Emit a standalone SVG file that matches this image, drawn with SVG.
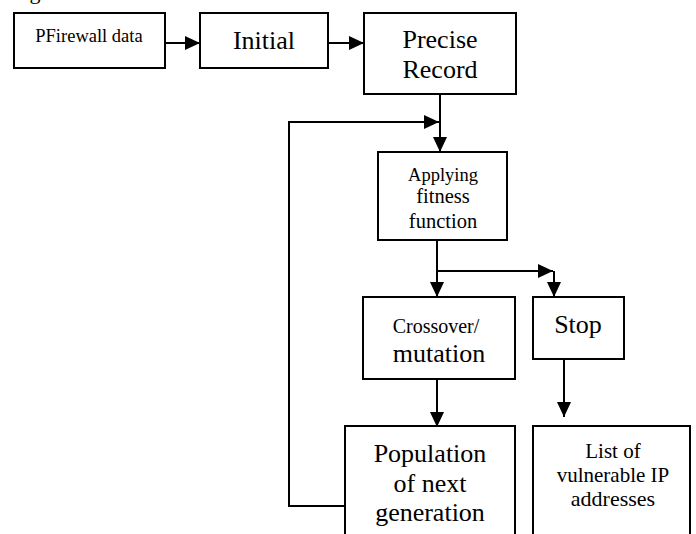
<svg xmlns="http://www.w3.org/2000/svg" width="696" height="534" viewBox="0 0 696 534">
<style>
  .box { fill: #fff; stroke: #000; stroke-width: 2; }
  .t { font-family: "Times New Roman", "Liberation Serif", "DejaVu Serif", serif; fill: #000; text-anchor: middle; }
  .c { fill: none; stroke: #000; stroke-width: 2; }
</style>
<defs>
  <marker id="ah" viewBox="0 0 15 14" refX="15" refY="7" markerWidth="15" markerHeight="14" markerUnits="userSpaceOnUse" orient="auto">
    <path d="M0,0 L15,7 L0,14 Z" fill="#000"/>
  </marker>
</defs>
<rect width="696" height="534" fill="#fff"/>
<text class="t" x="35" y="-1" font-size="22">g</text>

<g id="connectors">
  <line class="c" x1="165" y1="43" x2="200" y2="43" marker-end="url(#ah)"/>
  <line class="c" x1="328" y1="43" x2="364" y2="43" marker-end="url(#ah)"/>
  <line class="c" x1="440" y1="94" x2="440" y2="152" marker-end="url(#ah)"/>
  <path class="c" d="M345,506 L289,506 L289,122 L439,122" marker-end="url(#ah)"/>
  <line class="c" x1="437" y1="240" x2="437" y2="297" marker-end="url(#ah)"/>
  <line class="c" x1="437" y1="271" x2="553" y2="271" marker-end="url(#ah)"/>
  <line class="c" x1="554" y1="271" x2="554" y2="297" marker-end="url(#ah)"/>
  <line class="c" x1="437" y1="379" x2="437" y2="427" marker-end="url(#ah)"/>
  <line class="c" x1="564" y1="359" x2="564" y2="417" marker-end="url(#ah)"/>
</g>

<g id="pfirewall">
  <rect class="box" x="14" y="13" width="151" height="55"/>
  <text class="t" x="89" y="42" font-size="18.5">PFirewall data</text>
</g>
<g id="initial">
  <rect class="box" x="200" y="13" width="128" height="55"/>
  <text class="t" x="264" y="49" font-size="26">Initial</text>
</g>
<g id="precise">
  <rect class="box" x="364" y="13" width="152" height="81"/>
  <text class="t" x="440" y="48" font-size="26">Precise</text>
  <text class="t" x="440" y="78" font-size="26">Record</text>
</g>
<g id="applying">
  <rect class="box" x="378" y="152" width="129" height="88"/>
  <text class="t" x="443" y="181" font-size="18.5">Applying</text>
  <text class="t" x="443" y="203" font-size="20.5">fitness</text>
  <text class="t" x="443" y="228" font-size="20.5">function</text>
</g>
<g id="crossover">
  <rect class="box" x="363" y="297" width="152" height="82"/>
  <text class="t" x="436" y="333" font-size="20">Crossover/</text>
  <text class="t" x="439" y="362" font-size="26">mutation</text>
</g>
<g id="stop">
  <rect class="box" x="533" y="297" width="91" height="62"/>
  <text class="t" x="578" y="333" font-size="26">Stop</text>
</g>
<g id="population">
  <rect class="box" x="345" y="426" width="170" height="120"/>
  <text class="t" x="430" y="462" font-size="26">Population</text>
  <text class="t" x="430" y="492" font-size="26">of next</text>
  <text class="t" x="430" y="521" font-size="26">generation</text>
</g>
<g id="list">
  <rect class="box" x="533" y="426" width="157" height="120"/>
  <text class="t" x="613" y="458" font-size="21">List of</text>
  <text class="t" x="613" y="482" font-size="21">vulnerable IP</text>
  <text class="t" x="613" y="506" font-size="22">addresses</text>
</g>
</svg>
